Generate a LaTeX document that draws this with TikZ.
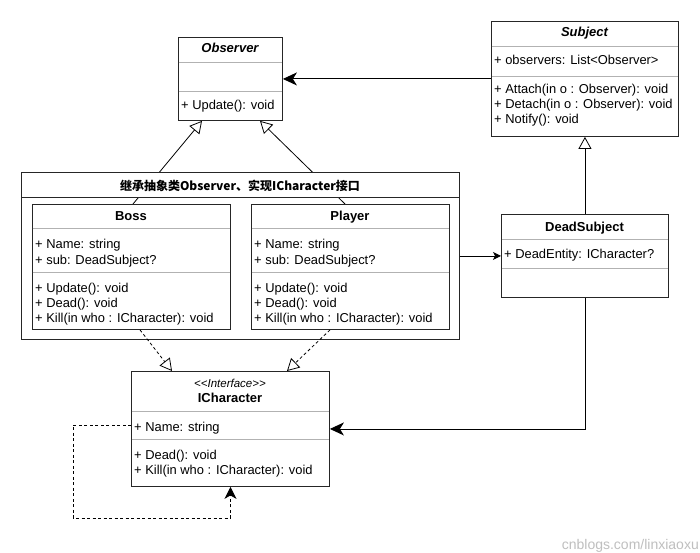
\documentclass[tikz,border=0pt]{standalone}
\usepackage{fontspec}
\setmainfont{Liberation Sans}
\newfontfamily\cjk{Noto Sans CJK SC}
\usetikzlibrary{arrows.meta,calc}
\begin{document}
\begin{tikzpicture}[x=1pt,y=-1pt,
 umlbox/.style={draw=black!85, line width=0.9pt, fill=white, inner sep=0pt, anchor=north west},
 sep/.style={draw=black!30, line width=0.8pt},
 ttl/.style={font=\fontsize{13}{15}\selectfont\bfseries, inner sep=0pt, anchor=base},
 ittl/.style={font=\fontsize{13}{15}\selectfont\bfseries\itshape, inner sep=0pt, anchor=base},
 txt/.style={font=\fontsize{12.9}{15}\selectfont, inner sep=0pt, anchor=base west},
 gen/.style={-{Triangle[open,length=12pt,width=13pt]}, line width=0.8pt},
 real/.style={gen, dash pattern=on 3pt off 2.5pt},
 assoc/.style={-{Stealth[length=14pt,width=13pt,inset=4pt]}, line width=0.9pt},
 smallassoc/.style={-{Stealth[length=8pt,width=8pt,inset=2pt]}, line width=0.9pt},
 selfdep/.style={-{Stealth[length=12pt,width=12pt,inset=3.5pt]}, line width=0.8pt, dash pattern=on 3pt off 2.5pt},
]
\useasboundingbox[fill=white] (0,0) rectangle (700,553);

% ---------- Observer ----------
\node[umlbox, minimum width=104pt, minimum height=83pt] (obs) at (178,37) {};
\draw[sep] (178.5,62) -- (281.5,62);
\draw[sep] (178.5,91) -- (281.5,91);
\node[ittl] (obsT) at (230,53) {Observer};
\node[txt] (obsM1) at (181,110) {+ Update(): void};

% ---------- Subject ----------
\node[umlbox, minimum width=187pt, minimum height=115pt] (subj) at (491,21) {};
\draw[sep] (491.5,46) -- (677.5,46);
\draw[sep] (491.5,76) -- (677.5,76);
\node[ittl] (subjT) at (584.5,37) {Subject};
\node[txt] (subjA1) at (494,65) {+ observers: List{<}Observer{>}};
\node[txt] (subjM1) at (494,94) {+ Attach(in o : Observer): void};
\node[txt] (subjM2) at (494,109) {+ Detach(in o : Observer): void};
\node[txt] (subjM3) at (494,124) {+ Notify(): void};

% ---------- Group ----------
\node[umlbox, minimum width=438pt, minimum height=167pt] (grp) at (21,172) {};

% generalization Boss/Player -> Observer (behind header)
\coordinate (bossTop) at (133,204);
\coordinate (playerTop) at (345,204);
\draw[gen] (bossTop) -- ($(obs.south west)+(24,0)$);
\draw[gen] (playerTop) -- ($(obs.south west)+(82,0)$);

\node[umlbox, minimum width=438pt, minimum height=25pt] (grpH) at (21,172) {};
\node[inner sep=0pt, anchor=base, font=\cjk\fontsize{12}{14}\selectfont\bfseries] (grpT) at (240,190) {继承抽象类Observer、实现ICharacter接口};

% ---------- Boss ----------
\node[umlbox, minimum width=198pt, minimum height=125pt] (boss) at (32,204) {};
\draw[sep] (32.5,228) -- (229.5,228);
\draw[sep] (32.5,272) -- (229.5,272);
\node[ttl] (bossT) at (131,220) {Boss};
\node[txt] (bossA1) at (35,248) {+ Name: string};
\node[txt] (bossA2) at (35,264) {+ sub: DeadSubject?};
\node[txt] (bossM1) at (35,292) {+ Update(): void};
\node[txt] (bossM2) at (35,307) {+ Dead(): void};
\node[txt] (bossM3) at (35,322) {+ Kill(in who : ICharacter): void};

% ---------- Player ----------
\node[umlbox, minimum width=198pt, minimum height=125pt] (player) at (251,204) {};
\draw[sep] (251.5,228) -- (448.5,228);
\draw[sep] (251.5,272) -- (448.5,272);
\node[ttl] (playerT) at (350,220) {Player};
\node[txt] (playerA1) at (254,248) {+ Name: string};
\node[txt] (playerA2) at (254,264) {+ sub: DeadSubject?};
\node[txt] (playerM1) at (254,292) {+ Update(): void};
\node[txt] (playerM2) at (254,307) {+ Dead(): void};
\node[txt] (playerM3) at (254,322) {+ Kill(in who : ICharacter): void};

% ---------- DeadSubject ----------
\node[umlbox, minimum width=167pt, minimum height=83pt] (dead) at (501,214) {};
\draw[sep] (501.5,239) -- (667.5,239);
\draw[sep] (501.5,268) -- (667.5,268);
\node[ttl] (deadT) at (584.5,231) {DeadSubject};
\node[txt] (deadA1) at (504,258) {+ DeadEntity: ICharacter?};

% ---------- ICharacter ----------
\node[umlbox, minimum width=198pt, minimum height=115pt] (ichar) at (131,371) {};
\draw[sep] (131.5,411) -- (328.5,411);
\draw[sep] (131.5,439) -- (328.5,439);
\node[inner sep=0pt, anchor=base, font=\fontsize{11.5}{13}\selectfont\itshape] (icharS) at (230,387) {{<}{<}Interface{>}{>}};
\node[ttl] (icharT) at (230,402) {ICharacter};
\node[txt] (icharA1) at (134,431) {+ Name: string};
\node[txt] (icharM1) at (134,459) {+ Dead(): void};
\node[txt] (icharM2) at (134,474) {+ Kill(in who : ICharacter): void};

% ---------- connectors ----------
\draw[assoc] (subj.west) -- (subj.west -| obs.east);
\draw[smallassoc] (grp.east) -- (grp.east -| dead.west);
\draw[gen] (dead.north) -- (subj.south);
\draw[assoc] (dead.south) |- (ichar.east);
\draw[real] ($(boss.south west)+(108,0)$) -- ($(ichar.north west)+(41,0)$);
\draw[real] ($(player.south west)+(79,0)$) -- ($(ichar.north west)+(156,0)$);
\draw[selfdep] ($(ichar.west)+(0,-4)$) -- ++(-58,0) |- ($(ichar.south)+(0,31)$) -- (ichar.south);

% watermark
\node[inner sep=0pt, anchor=base east, text=black!25, font=\fontsize{14}{16}\selectfont] (wm) at (699,549) {cnblogs.com/linxiaoxu};
\end{tikzpicture}
\end{document}
